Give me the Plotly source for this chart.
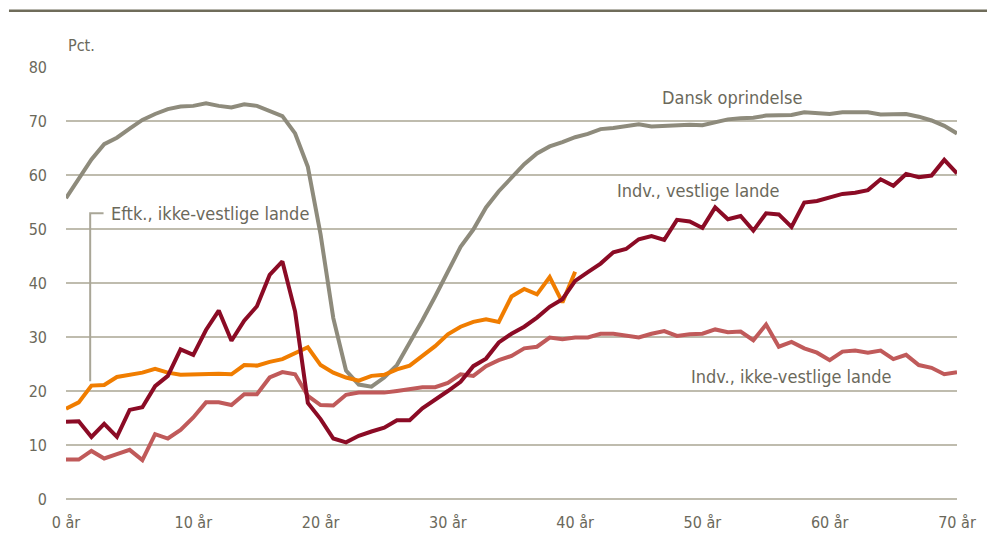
import plotly.graph_objects as go

# Alder 0-70 år
years = list(range(0, 71))

dansk = [55.7, 59.4, 62.9, 65.7, 66.9, 68.6, 70.2, 71.3, 72.2, 72.7,
         72.8, 73.3, 72.8, 72.5, 73.1, 72.8, 71.9, 70.9, 67.7, 61.5,
         49.0, 33.5, 23.8, 21.2, 20.8, 22.5, 24.8, 28.8, 33.1, 37.5,
         42.1, 46.7, 49.9, 54.0, 57.0, 59.6, 62.0, 64.0, 65.3, 66.1,
         67.0, 67.6, 68.5, 68.7, 69.0, 69.4, 69.0, 69.1, 69.2, 69.3,
         69.2, 69.7, 70.3, 70.5, 70.6, 71.0, 71.1, 71.1, 71.6, 71.4,
         71.3, 71.6, 71.6, 71.6, 71.2, 71.3, 71.3, 70.8, 70.1, 69.1,
         67.7]

indv_vestlige = [14.3, 14.4, 11.5, 13.9, 11.5, 16.5, 17.0, 20.9, 22.8, 27.7,
                 26.7, 31.3, 34.9, 29.3, 33.0, 35.7, 41.5, 44.0, 34.7, 17.8,
                 14.8, 11.2, 10.5, 11.7, 12.5, 13.2, 14.6, 14.6, 16.8, 18.3,
                 20.0, 21.7, 24.6, 26.0, 29.0, 30.6, 31.9, 33.6, 35.6, 37.0,
                 40.4, 42.0, 43.6, 45.7, 46.3, 48.1, 48.7, 48.0, 51.7, 51.4,
                 50.2, 54.0, 51.8, 52.4, 49.7, 52.9, 52.7, 50.4, 54.9, 55.2,
                 55.8, 56.5, 56.7, 57.2, 59.2, 58.0, 60.2, 59.6, 59.9, 62.8,
                 60.3]

indv_ikke_vestlige = [7.3, 7.3, 8.9, 7.5, 8.3, 9.1, 7.2, 12.0, 11.2, 12.8,
                      15.1, 17.9, 17.9, 17.4, 19.4, 19.4, 22.5, 23.5, 23.1, 19.1,
                      17.4, 17.3, 19.3, 19.7, 19.7, 19.7, 20.0, 20.4, 20.7, 20.7,
                      21.5, 23.1, 22.8, 24.6, 25.7, 26.5, 27.9, 28.2, 29.9, 29.6,
                      29.9, 29.9, 30.6, 30.6, 30.3, 29.9, 30.6, 31.1, 30.2, 30.5,
                      30.6, 31.4, 30.9, 31.0, 29.4, 32.3, 28.2, 29.1, 27.9, 27.1,
                      25.7, 27.3, 27.5, 27.1, 27.5, 25.9, 26.7, 24.8, 24.3, 23.1,
                      23.5]

# Efterkommere kun til 40 år
eftk_years = list(range(0, 41))
eftk_ikke_vestlige = [16.7, 17.9, 21.0, 21.1, 22.6, 23.0, 23.4, 24.1, 23.4, 23.0,
                      23.1, 23.2, 23.2, 23.1, 24.8, 24.7, 25.4, 25.9, 26.9, 28.1,
                      24.8, 23.4, 22.5, 21.9, 22.8, 23.0, 24.0, 24.7, 26.5, 28.3,
                      30.5, 31.9, 32.8, 33.3, 32.8, 37.5, 38.9, 37.9, 41.1, 36.4,
                      42.1]

x_ticks = list(range(0, 71, 10))
x_labels = [f"{t} år" for t in x_ticks]
y_ticks = list(range(0, 81, 10))

FONT = "Liberation Sans Narrow, Arial Narrow, DejaVu Sans Condensed, sans-serif"
TEXT = "#6b695b"
GRID = "#bfbcae"

series = [
    (years, dansk, "Dansk oprindelse", "#8e8b7c"),
    (years, indv_ikke_vestlige, "Indv., ikke-vestlige lande", "#c05a5a"),
    (eftk_years, eftk_ikke_vestlige, "Eftk., ikke-vestlige lande", "#f07d00"),
    (years, indv_vestlige, "Indv., vestlige lande", "#8b0b25"),
]

fig = go.Figure()
for xs, ys, name, color in series:
    fig.add_trace(go.Scatter(x=xs, y=ys, mode="lines", name=name,
                             line=dict(color=color, width=4)))

labels = [
    dict(x=52.3, y=74.3, text="Dansk oprindelse", xanchor="center"),
    dict(x=49.7, y=57.2, text="Indv., vestlige lande", xanchor="center"),
    dict(x=57.0, y=22.6, text="Indv., ikke-vestlige lande", xanchor="center"),
    dict(x=3.4, y=52.9, text="Eftk., ikke-vestlige lande", xanchor="left"),
]
for a in labels:
    fig.add_annotation(**a, xref="x", yref="y", yanchor="middle", showarrow=False,
                       font=dict(family=FONT, size=18, color=TEXT))

fig.add_annotation(x=0, y=1.022, xref="x", yref="paper", text="Pct.", showarrow=False,
                   xanchor="left", yanchor="bottom",
                   font=dict(family=FONT, size=16, color=TEXT))

# leader line for the Eftk. label
fig.add_shape(type="path", xref="x", yref="y",
              path="M 1.9 21.8 L 1.9 52.9 L 2.95 52.9",
              line=dict(color="#a9a697", width=2))

# rule under the (cropped) title
fig.add_shape(type="line", xref="paper", yref="paper",
              x0=-0.064, x1=1.05, y0=1.13, y1=1.13,
              line=dict(color="#6f6c5a", width=2.5))

# page body adds 8px, so the figure is a bit smaller than the window
fig.update_layout(
    width=987, height=532,
    margin=dict(l=58, r=38, t=59, b=41),
    paper_bgcolor="white", plot_bgcolor="white",
    showlegend=False,
    font=dict(family=FONT, size=16, color=TEXT),
)
fig.update_xaxes(range=[0, 70], tickvals=x_ticks, ticktext=x_labels,
                 showgrid=False, zeroline=False, showline=False,
                 ticks="", ticklabelstandoff=12, automargin=False)
fig.update_yaxes(range=[0, 80], tickvals=y_ticks, showgrid=True,
                 gridcolor=GRID, gridwidth=1.5, zeroline=True,
                 zerolinecolor=GRID, zerolinewidth=2,
                 showline=False, ticks="", ticklabelstandoff=18, automargin=False)

fig.write_html("out.html")
